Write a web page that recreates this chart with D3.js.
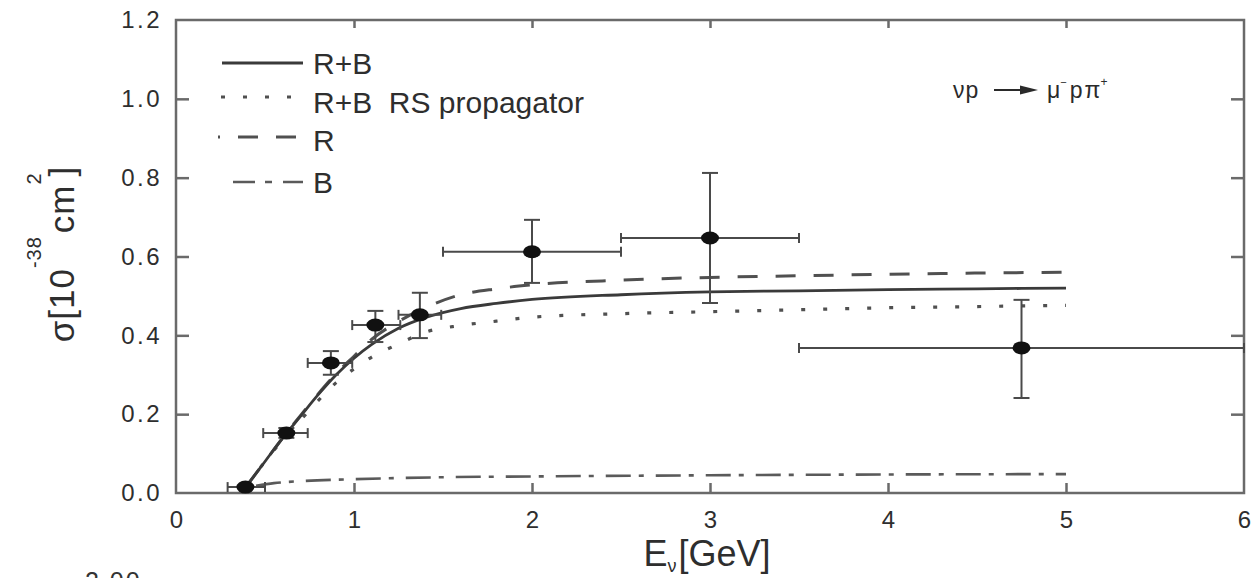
<!DOCTYPE html>
<html>
<head>
<meta charset="utf-8">
<script src="https://cdn.jsdelivr.net/npm/d3@7"></script>
<style>
  html, body { margin: 0; padding: 0; background: #fff; }
  svg { display: block; font-family: "Liberation Sans", Arial, Helvetica, sans-serif; }
</style>
</head>
<body>
<svg id="chart" width="1257" height="578"></svg>
<script>
// ---------- data ----------
const xTicks = [0, 1, 2, 3, 4, 5, 6];
const yTicks = [0.0, 0.2, 0.4, 0.6, 0.8, 1.0, 1.2];

// theory curves (E in GeV, sigma in 1e-38 cm^2)
const curveE   = [0.40, 0.50, 0.60, 0.70, 0.80, 0.90, 1.00, 1.10, 1.25, 1.40, 1.60, 1.80, 2.00, 2.50, 3.00, 3.50, 4.00, 4.50, 5.00];
const sigRB    = [0.020, 0.080, 0.140, 0.195, 0.250, 0.300, 0.342, 0.377, 0.418, 0.445, 0.468, 0.481, 0.491, 0.503, 0.510, 0.513, 0.516, 0.518, 0.520];
const sigRBRS  = [0.020, 0.080, 0.135, 0.185, 0.235, 0.280, 0.315, 0.345, 0.378, 0.408, 0.425, 0.436, 0.446, 0.455, 0.460, 0.465, 0.470, 0.473, 0.476];
const sigR     = [0.020, 0.080, 0.140, 0.197, 0.252, 0.303, 0.347, 0.390, 0.435, 0.470, 0.503, 0.518, 0.528, 0.540, 0.547, 0.551, 0.555, 0.558, 0.560];
const bornE    = [0.45, 0.55, 0.70, 1.00, 1.50, 2.00, 3.00, 4.00, 5.00];
const sigB     = [0.018, 0.025, 0.030, 0.035, 0.040, 0.042, 0.045, 0.047, 0.048];

// data points with errors
const ptE      = [0.39, 0.62, 0.87, 1.12, 1.37, 2.00, 3.00, 4.75];
const ptSig    = [0.015, 0.152, 0.330, 0.426, 0.452, 0.612, 0.647, 0.368];
const ptElo    = [0.29, 0.49, 0.74, 0.99, 1.25, 1.50, 2.50, 3.50];
const ptEhi    = [0.50, 0.74, 0.99, 1.26, 1.49, 2.50, 3.50, 6.00];
const ptSigLo  = [0.010, 0.140, 0.300, 0.383, 0.393, 0.533, 0.482, 0.241];
const ptSigHi  = [0.020, 0.165, 0.360, 0.462, 0.508, 0.693, 0.812, 0.490];

const legendLabels = ["R+B", "R+B  RS propagator", "R", "B"];

// ---------- setup ----------
const svg = d3.select("#chart");
const x = d3.scaleLinear().domain([0, 6]).range([176, 1244]);
const y = d3.scaleLinear().domain([0, 1.2]).range([493, 20]);
const frameColor = "#6a6a6a";

// axes
const gx = svg.append("g").attr("transform", `translate(0,${y(0)})`)
  .call(d3.axisBottom(x).tickValues(xTicks).tickSize(-10).tickSizeOuter(0).tickPadding(18).tickFormat(d3.format("d")));
const gxt = svg.append("g").attr("transform", `translate(0,${y(1.2)})`)
  .call(d3.axisTop(x).tickValues(xTicks.slice(1, -1)).tickSize(-8).tickSizeOuter(0).tickFormat(""));
const gy = svg.append("g").attr("transform", `translate(${x(0)},0)`)
  .call(d3.axisLeft(y).tickValues(yTicks).tickSize(-13).tickSizeOuter(0).tickPadding(14).tickFormat(d3.format(".1f")));
const gyr = svg.append("g").attr("transform", `translate(${x(6)},0)`)
  .call(d3.axisRight(y).tickValues(yTicks.slice(1, -1)).tickSize(-13).tickSizeOuter(0).tickFormat(""));

[gx, gxt, gy, gyr].forEach(g => {
  g.select(".domain").remove();
  g.selectAll(".tick line").attr("stroke", frameColor).attr("stroke-width", 2.5);
  g.selectAll(".tick text").attr("fill", "#2e2e2e").attr("font-size", 24)
    .attr("font-family", "'Liberation Sans', Arial, sans-serif");
});
gy.selectAll(".tick text").attr("letter-spacing", 2.5);
gx.selectAll(".tick line").filter(d => d === 0 || d === 6).remove();
gy.selectAll(".tick line").filter(d => d === 0 || d === 1.2).remove();

svg.append("rect")
  .attr("x", x(0)).attr("y", y(1.2))
  .attr("width", x(6) - x(0)).attr("height", y(0) - y(1.2))
  .attr("fill", "none").attr("stroke", frameColor).attr("stroke-width", 2.5);

// ---------- curves ----------
const line = d3.line().x(d => x(d[0])).y(d => y(d[1])).curve(d3.curveMonotoneX);
const styles = {
  rb:   { color: "#3a3a3a", width: 2.8, dash: null },
  rbrs: { color: "#505050", width: 3.2, dash: "4,18" },
  r:    { color: "#505050", width: 3.0, dash: "20,18" },
  b:    { color: "#5a5a5a", width: 2.6, dash: "25,8,5,12" }
};
function drawCurve(xs, ys, st) {
  svg.append("path")
    .datum(xs.map((e, i) => [e, ys[i]]))
    .attr("d", line)
    .attr("fill", "none")
    .attr("stroke", st.color)
    .attr("stroke-width", st.width)
    .attr("stroke-dasharray", st.dash);
}
drawCurve(bornE, sigB, styles.b);
drawCurve(curveE, sigRBRS, styles.rbrs);
drawCurve(curveE, sigR, styles.r);
drawCurve(curveE, sigRB, styles.rb);

// ---------- data points ----------
const errColor = "#4a4a4a";
const pts = ptE.map((e, i) => ({ e, s: ptSig[i], elo: ptElo[i], ehi: ptEhi[i], slo: ptSigLo[i], shi: ptSigHi[i] }));
const gp = svg.append("g");
pts.forEach(p => {
  gp.append("line").attr("x1", x(p.elo)).attr("x2", x(p.ehi)).attr("y1", y(p.s)).attr("y2", y(p.s))
    .attr("stroke", errColor).attr("stroke-width", 2);
  [p.elo, p.ehi].forEach(v => {
    gp.append("line").attr("x1", x(v)).attr("x2", x(v)).attr("y1", y(p.s) - 5).attr("y2", y(p.s) + 5)
      .attr("stroke", errColor).attr("stroke-width", 2);
  });
  gp.append("line").attr("x1", x(p.e)).attr("x2", x(p.e)).attr("y1", y(p.slo)).attr("y2", y(p.shi))
    .attr("stroke", errColor).attr("stroke-width", 2);
  if (y(p.slo) - y(p.shi) > 8) {
    [p.slo, p.shi].forEach(v => {
      gp.append("line").attr("x1", x(p.e) - 8).attr("x2", x(p.e) + 8).attr("y1", y(v)).attr("y2", y(v))
        .attr("stroke", errColor).attr("stroke-width", 2);
    });
  }
  gp.append("ellipse").attr("cx", x(p.e)).attr("cy", y(p.s)).attr("rx", 9).attr("ry", 6.5).attr("fill", "#111");
});

// ---------- legend ----------
const lg = svg.append("g");
const legRows = [
  { key: "rb",   y: 63,  x1: 222, x2: 303, off: 0 },
  { key: "rbrs", y: 97,  x1: 221, x2: 296, off: 0 },
  { key: "r",    y: 137, x1: 218, x2: 298, off: 18 },
  { key: "b",    y: 182, x1: 233, x2: 303, off: 0 }
];
const legBaselines = [74, 113, 151, 193];
legRows.forEach((r, i) => {
  const st = styles[r.key];
  lg.append("line").attr("x1", r.x1).attr("x2", r.x2).attr("y1", r.y).attr("y2", r.y)
    .attr("stroke", st.color).attr("stroke-width", st.width)
    .attr("stroke-dasharray", r.key === "b" ? "22,10,7,11" : st.dash)
    .attr("stroke-dashoffset", r.off);
  lg.append("text").attr("x", 313).attr("y", legBaselines[i])
    .attr("font-size", 30).attr("fill", "#2e2e2e")
    .style("white-space", "pre")
    .text(legendLabels[i]);
});

// ---------- reaction annotation ----------
const ann = svg.append("g").attr("fill", "#2a2a2a");
ann.append("text").attr("x", 953).attr("y", 98).attr("font-size", 23).attr("letter-spacing", 1).text("νp");
ann.append("line").attr("x1", 994).attr("x2", 1024).attr("y1", 90).attr("y2", 90).attr("stroke", "#2a2a2a").attr("stroke-width", 2);
ann.append("path").attr("d", "M1020,85.5 L1038,90 L1020,94.5 Z").attr("fill", "#2a2a2a");
const t2 = ann.append("text").attr("x", 1047).attr("y", 98).attr("font-size", 23);
t2.append("tspan").text("μ");
t2.append("tspan").attr("font-size", 11).attr("dy", -12).text("−");
t2.append("tspan").attr("font-size", 23).attr("dy", 12).attr("dx", 3).text("p");
t2.append("tspan").attr("dx", 2).text("π");
t2.append("tspan").attr("font-size", 12).attr("dy", -12).text("+");

// ---------- axis titles ----------
const xt = svg.append("text").attr("x", 707).attr("y", 566).attr("text-anchor", "middle")
  .attr("font-size", 36).attr("fill", "#2e2e2e");
xt.append("tspan").text("E");
xt.append("tspan").attr("font-size", 18).attr("dy", 6).text("ν");
xt.append("tspan").attr("dy", -6).attr("dx", 2).text("[GeV]");

const yt = svg.append("text").attr("transform", "translate(74,254) rotate(-90)")
  .attr("text-anchor", "middle").attr("font-size", 35).attr("fill", "#2e2e2e").attr("letter-spacing", 1);
yt.append("tspan").text("σ[10");
yt.append("tspan").attr("font-size", 20).attr("dy", -33).text("-38");
yt.append("tspan").attr("dy", 33).attr("dx", 3).text("cm");
yt.append("tspan").attr("font-size", 20).attr("dy", -33).text("2");
yt.append("tspan").attr("dy", 33).attr("dx", -4).text("]");

// partial label from the figure below (cut off at the bottom edge, as in the source)
svg.append("text").attr("x", 85).attr("y", 590).attr("font-size", 25).attr("fill", "#333").attr("letter-spacing", 2).text("2.00");
</script>
</body>
</html>
